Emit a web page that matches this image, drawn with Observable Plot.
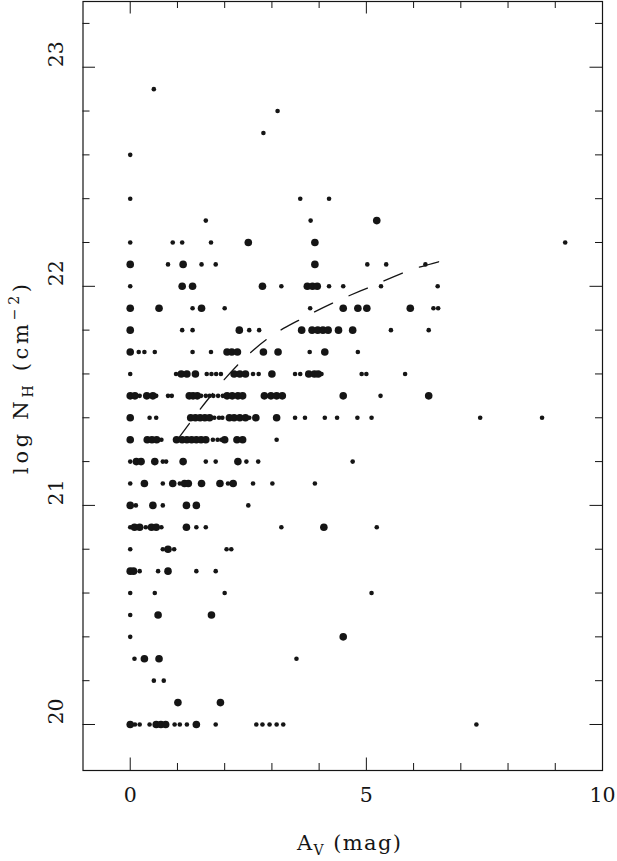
<!DOCTYPE html>
<html><head><meta charset="utf-8">
<script src="https://cdn.jsdelivr.net/npm/d3@7"></script>
<script src="https://cdn.jsdelivr.net/npm/@observablehq/plot@0.6"></script>
<style>body{margin:0;background:#fff} svg{display:block}</style>
</head><body><div id="chart"></div>
<script>
// log N_H levels (rows) and the A_V values of small / big dots on each row
const nhLevels = [22.9, 22.8, 22.7, 22.6, 22.4, 22.3, 22.2, 22.1, 22.0, 21.9, 21.8, 21.7, 21.6, 21.5, 21.4, 21.3, 21.2, 21.1, 21.0, 20.9, 20.8, 20.7, 20.6, 20.5, 20.4, 20.3, 20.2, 20.1, 20.0];
const smallAv = [
  [0.5],
  [3.12],
  [2.82],
  [0],
  [0, 3.6, 4.21],
  [1.6, 3.82],
  [0, 0.9, 1.1, 1.71, 9.21],
  [0.8, 1.51, 1.81, 5.02, 5.42, 6.25],
  [0, 3.2, 4.21, 4.51, 5.31, 6.51],
  [1.32, 2.0, 3.81, 6.42, 6.52],
  [1.1, 1.32, 2.52, 2.73, 5.52, 6.32],
  [0.18, 0.3, 0.52, 1.32, 1.71, 3.8, 4.82],
  [0, 0.97, 1.62, 1.72, 1.82, 1.92, 2.6, 2.72, 3.49, 3.6, 4.05, 4.9, 5.0, 5.82],
  [0.2, 0.55, 0.8, 0.88, 1.5, 1.6, 1.68, 1.76, 1.86, 1.96, 5.3],
  [0.41, 0.55, 1.78, 1.88, 1.95, 2.52, 3.49, 3.7, 4.12, 4.38, 4.81, 5.11, 7.41, 8.72],
  [0.66, 1.75, 1.85, 1.93, 3.1],
  [0, 0.69, 0.76, 1.6, 1.81, 2.46, 2.71, 4.71],
  [0, 0.69, 1.05, 2.07, 2.6, 3.01, 3.91],
  [0.12, 0.69, 2.5],
  [0, 0.33, 0.66, 1.4, 1.6, 3.2, 5.22],
  [0, 0.69, 0.93, 2.04, 2.14],
  [0.2, 0.59, 1.4, 1.81],
  [0, 0.52, 2.0, 5.11],
  [0],
  [0],
  [0.09, 3.52],
  [0.5, 0.71],
  [],
  [0.1, 0.2, 0.41, 0.94, 1.05, 1.2, 1.81, 2.67, 2.8, 2.95, 3.1, 3.24, 7.33]
];
const bigAv = [
  [], [], [], [], [],
  [5.22],
  [2.5, 3.91],
  [0, 1.12, 3.91],
  [1.1, 1.32, 2.8, 3.75, 3.86, 3.96],
  [0, 0.61, 1.51, 4.51, 4.82, 5.01, 5.93],
  [0, 2.31, 3.63, 3.85, 3.97, 4.08, 4.19, 4.41, 4.71],
  [0, 2.05, 2.15, 2.27, 2.82, 3.13, 4.12],
  [1.08, 1.2, 1.38, 2.2, 2.32, 2.44, 3.0, 3.78, 3.9, 3.98],
  [0, 0.1, 0.35, 0.48, 1.25, 1.33, 1.42, 2.05, 2.16, 2.28, 2.38, 2.84, 2.98, 3.1, 3.22, 4.51, 6.32],
  [0, 1.28, 1.38, 1.48, 1.58, 1.68, 2.1, 2.2, 2.32, 2.44, 2.66, 3.1],
  [0, 0.36, 0.46, 0.56, 0.98, 1.1, 1.2, 1.3, 1.4, 1.5, 1.6, 2.0, 2.26, 2.38],
  [0.13, 0.23, 0.52, 1.12, 2.28],
  [0.3, 0.9, 1.15, 1.23, 1.51, 1.9, 2.18],
  [0, 0.48, 1.19, 1.4],
  [0.09, 0.2, 0.45, 0.55, 1.19, 4.1],
  [0.8],
  [0, 0.07, 0.8],
  [],
  [0.59, 1.72],
  [4.51],
  [0.3, 0.61],
  [],
  [1.01, 1.91],
  [0, 0.55, 0.65, 0.75, 1.4]
];
// dashed relation
const fitAv = [1.0, 1.63, 2.27, 2.9, 3.61, 4.35, 5.11, 5.88, 6.67];
const fitNH = [21.30, 21.48, 21.64, 21.76, 21.85, 21.93, 22.00, 22.07, 22.12];
// ticks
const xMajorTicks = [0, 5, 10];
const xMinorTicks = [1, 2, 3, 4, 6, 7, 8, 9];
const yMajorTicks = [20, 21, 22, 23];
const yMinorTicks = [20.2, 20.4, 20.6, 20.8, 21.2, 21.4, 21.6, 21.8, 22.2, 22.4, 22.6, 22.8, 23.2];

const smallData = nhLevels.flatMap((nh, i) => smallAv[i].map(av => ({av, nh})));
const bigData = nhLevels.flatMap((nh, i) => bigAv[i].map(av => ({av, nh})));
const fitData = fitAv.map((av, i) => ({av, nh: fitNH[i]}));

const W = 617, H = 861, mL = 82.5, mR = 15, mT = 1, mB = 91;
const pw = W - mL - mR, ph = H - mT - mB;
const ink = "#151515";
const font = "DejaVu Serif";

const chart = Plot.plot({
  width: W, height: H,
  marginLeft: mL, marginRight: mR, marginTop: mT, marginBottom: mB,
  x: {domain: [-1, 10], axis: null},
  y: {domain: [19.79, 23.3], axis: null},
  style: {fontFamily: font, fontSize: "20px", color: ink, background: "#fff"},
  marks: [
    Plot.frame({stroke: ink, strokeWidth: 1.2}),
    // bottom & top ticks (inward)
    Plot.ruleX(xMajorTicks, {x: d => d, insetTop: ph - 12.5, stroke: ink}),
    Plot.ruleX(xMinorTicks, {x: d => d, insetTop: ph - 7, stroke: ink}),
    Plot.ruleX(xMajorTicks, {x: d => d, insetBottom: ph - 12.5, stroke: ink}),
    Plot.ruleX(xMinorTicks, {x: d => d, insetBottom: ph - 7, stroke: ink}),
    // left & right ticks (inward)
    Plot.ruleY(yMajorTicks, {y: d => d, insetRight: pw - 12.5, stroke: ink}),
    Plot.ruleY(yMinorTicks, {y: d => d, insetRight: pw - 7, stroke: ink}),
    Plot.ruleY(yMajorTicks, {y: d => d, insetLeft: pw - 12.5, stroke: ink}),
    Plot.ruleY(yMinorTicks, {y: d => d, insetLeft: pw - 7, stroke: ink}),
    // tick labels
    Plot.text(xMajorTicks, {x: d => d, frameAnchor: "bottom", dy: 24.5, text: d => String(d), lineAnchor: "middle", fill: ink, fontSize: 20.5}),
    Plot.text(yMajorTicks, {y: d => d, frameAnchor: "left", dx: -26.5, rotate: -90, text: d => String(d), lineAnchor: "middle", fill: ink, fontSize: 20.5}),
    // data
    Plot.dot(smallData, {x: "av", y: "nh", r: 2.3, fill: ink}),
    Plot.dot(bigData, {x: "av", y: "nh", r: 3.8, fill: ink}),
    Plot.line(fitData, {x: "av", y: "nh", stroke: ink, strokeWidth: 1.3, strokeDasharray: "20,18", curve: "monotone-x"})
  ]
});

const svg = d3.select(chart);
// x title: A_V (mag)
const xt = svg.append("text")
  .attr("x", 349).attr("y", 850)
  .attr("text-anchor", "middle")
  .attr("font-family", font).attr("font-size", 21)
  .attr("fill", ink)
  .attr("textLength", 104).attr("lengthAdjust", "spacing");
xt.append("tspan").text("A");
xt.append("tspan").attr("dy", 5).attr("font-size", 14).text("V");
xt.append("tspan").attr("dy", -5).text(" (mag)");

// y title: log N_H (cm^-2)
const yt = svg.append("text")
  .attr("transform", "translate(28,379) rotate(-90)")
  .attr("text-anchor", "middle")
  .attr("font-family", font).attr("font-size", 21)
  .attr("fill", ink)
  .attr("textLength", 190).attr("lengthAdjust", "spacing");
yt.append("tspan").text("log N");
yt.append("tspan").attr("dy", 5).attr("font-size", 14).text("H");
yt.append("tspan").attr("dy", -5).text(" (cm");
yt.append("tspan").attr("dy", -9).attr("font-size", 14).text("\u22122");
yt.append("tspan").attr("dy", 9).text(")");

document.getElementById("chart").appendChild(chart);
</script>
</body></html>
